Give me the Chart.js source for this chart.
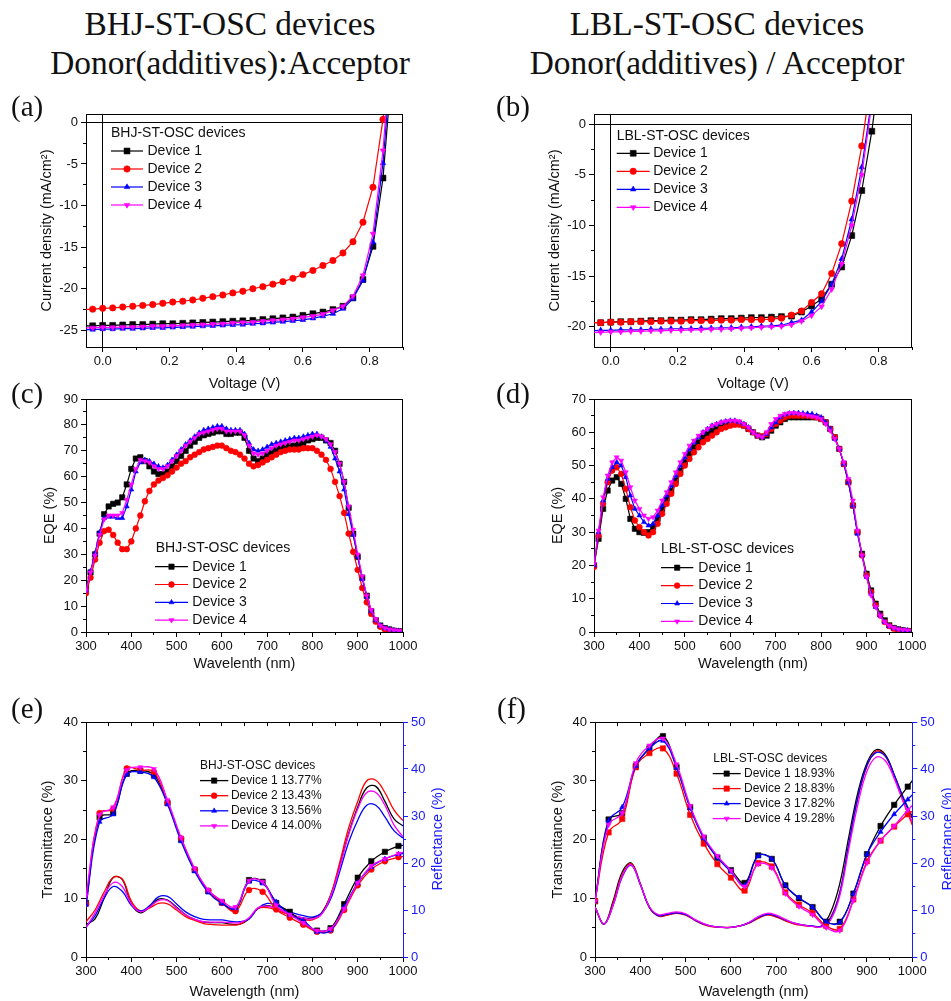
<!DOCTYPE html>
<html lang="en">
<head>
<meta charset="utf-8">
<title>BHJ vs LBL ST-OSC devices</title>
<script src="https://cdn.jsdelivr.net/npm/chart.js@4.4.1/dist/chart.umd.min.js"></script>
<style>
  html, body { margin: 0; padding: 0; background: #fff; }
  #page { position: relative; width: 951px; height: 1001px; overflow: hidden; background: #fff; }
  #page canvas { position: absolute; }
  .head { position: absolute; width: 470px; text-align: center; font-family: "Liberation Serif", "Times New Roman", serif; font-size: 33.4px; line-height: 38.5px; color: #111; white-space: nowrap; }
  .tag { position: absolute; font-family: "Liberation Serif", "Times New Roman", serif; font-size: 29px; line-height: 29px; color: #111; }
  .rtitle { position: absolute; width: 200px; height: 18px; line-height: 18px; text-align: center; font-family: "Liberation Sans", Arial, sans-serif; font-size: 14.5px; color: #1a1aff; transform: rotate(-90deg); white-space: nowrap; }
</style>
</head>
<body>
<div id="page">
  <canvas id="chartA" width="440" height="295" style="left:0;top:100px"></canvas>
  <canvas id="chartB" width="470" height="295" style="left:480px;top:100px"></canvas>
  <canvas id="chartC" width="440" height="290" style="left:0;top:385px"></canvas>
  <canvas id="chartD" width="470" height="290" style="left:480px;top:385px"></canvas>
  <canvas id="chartE" width="470" height="293" style="left:0;top:708px"></canvas>
  <canvas id="chartF" width="480" height="293" style="left:480px;top:708px"></canvas>

  <div class="head" style="left:-5px;top:5px">BHJ-ST-OSC devices<br>Donor(additives):Acceptor</div>
  <div class="head" style="left:482px;top:5px">LBL-ST-OSC devices<br>Donor(additives) / Acceptor</div>

  <div class="tag" style="left:11px;top:92px">(a)</div>
  <div class="tag" style="left:496px;top:92px">(b)</div>
  <div class="tag" style="left:11px;top:379px">(c)</div>
  <div class="tag" style="left:496px;top:379px">(d)</div>
  <div class="tag" style="left:11px;top:694px">(e)</div>
  <div class="tag" style="left:497px;top:694px">(f)</div>

  <div class="rtitle" style="left:337px;top:830px">Reflectance (%)</div>
  <div class="rtitle" style="left:847px;top:830px">Reflectance (%)</div>
</div>

<script>
'use strict';

// ---------- data ----------
let deviceNames = ['Device 1', 'Device 2', 'Device 3', 'Device 4'];
let bhjPce = ['Device 1 13.77%', 'Device 2 13.43%', 'Device 3 13.56%', 'Device 4 14.00%'];
let lblPce = ['Device 1 18.93%', 'Device 2 18.83%', 'Device 3 17.82%', 'Device 4 19.28%'];

// (a), (b) J-V, voltage in V, current density in mA/cm2
let voltage = [-0.06, -0.03, 0, 0.03, 0.06, 0.09, 0.12, 0.15, 0.18, 0.21, 0.24, 0.27, 0.30, 0.33, 0.36, 0.39,
  0.42, 0.45, 0.48, 0.51, 0.54, 0.57, 0.60, 0.63, 0.66, 0.69, 0.72, 0.75, 0.78, 0.81, 0.84, 0.87];

let bhjJ1 = [-24.45, -24.45, -24.4, -24.4, -24.35, -24.3, -24.3, -24.25, -24.2, -24.2, -24.15, -24.1, -24.05, -24.0, -23.95, -23.9,
  -23.85, -23.8, -23.7, -23.6, -23.5, -23.4, -23.2, -23.0, -22.8, -22.5, -22.1, -21.1, -18.9, -14.9, -6.7, 8];
let bhjJ2 = [-22.5, -22.45, -22.35, -22.3, -22.2, -22.1, -22.0, -21.9, -21.75, -21.6, -21.5, -21.35, -21.15, -20.95, -20.75, -20.5,
  -20.3, -20.0, -19.75, -19.45, -19.15, -18.75, -18.3, -17.8, -17.2, -16.6, -15.7, -14.35, -12.0, -7.8, 0.35, 12];
let bhjJ3 = [-24.9, -24.9, -24.85, -24.85, -24.8, -24.8, -24.75, -24.7, -24.7, -24.65, -24.6, -24.55, -24.5, -24.45, -24.4, -24.35,
  -24.3, -24.2, -24.15, -24.05, -23.95, -23.85, -23.75, -23.55, -23.3, -23.0, -22.4, -21.2, -19.0, -14.4, -4.9, 10];
let bhjJ4 = [-24.7, -24.7, -24.65, -24.65, -24.6, -24.6, -24.55, -24.5, -24.5, -24.45, -24.4, -24.35, -24.3, -24.25, -24.2, -24.1,
  -24.05, -24.0, -23.9, -23.8, -23.7, -23.6, -23.45, -23.3, -23.05, -22.6, -22.1, -20.9, -18.4, -13.4, -3.4, 12];

let lblJ1 = [-19.6, -19.6, -19.55, -19.5, -19.5, -19.45, -19.4, -19.4, -19.35, -19.35, -19.3, -19.3, -19.25, -19.2, -19.2, -19.15,
  -19.1, -19.1, -19.05, -19.0, -18.95, -18.55, -17.95, -17.25, -15.8, -14.1, -11.0, -6.55, -0.7, 7, 15, 22];
let lblJ2 = [-19.6, -19.6, -19.55, -19.55, -19.5, -19.5, -19.5, -19.45, -19.45, -19.45, -19.4, -19.4, -19.4, -19.35, -19.35, -19.3,
  -19.3, -19.3, -19.25, -19.15, -18.85, -18.45, -17.6, -16.75, -14.75, -11.8, -7.6, -2.15, 5, 14, 20, 25];
let lblJ3 = [-20.4, -20.35, -20.35, -20.3, -20.3, -20.3, -20.25, -20.25, -20.2, -20.2, -20.2, -20.15, -20.15, -20.1, -20.1, -20.05,
  -20.0, -19.95, -19.9, -19.85, -19.6, -19.35, -18.55, -17.5, -15.8, -13.3, -9.4, -4.25, 2.5, 11, 18, 24];
let lblJ4 = [-20.55, -20.55, -20.5, -20.5, -20.45, -20.45, -20.4, -20.4, -20.35, -20.35, -20.3, -20.3, -20.25, -20.25, -20.2, -20.15,
  -20.1, -20.05, -20.0, -19.95, -19.8, -19.45, -18.9, -18.0, -16.3, -13.8, -10.0, -5.0, 2, 10, 17, 23];

// (c), (d) EQE in %, wavelength in nm
let wlEqe = [300, 310, 320, 330, 340, 350, 360, 370, 380, 390,
  400, 410, 420, 430, 440, 450, 460, 470, 480, 490,
  500, 510, 520, 530, 540, 550, 560, 570, 580, 590,
  600, 610, 620, 630, 640, 650, 660, 670, 680, 690,
  700, 710, 720, 730, 740, 750, 760, 770, 780, 790,
  800, 810, 820, 830, 840, 850, 860, 870, 880, 890,
  900, 910, 920, 930, 940, 950, 960, 970, 980, 990, 1000];

let bhjEqe1 = [17, 23, 30, 38, 45.5, 48.5, 49.5, 50, 52, 57,
  63, 67, 67.5, 66, 64, 62, 61, 61, 62, 64,
  66, 68, 70, 72, 73.5, 75, 76, 76.5, 77, 77.5,
  77.5, 76.5, 76.5, 77, 77, 75, 70, 67, 66, 67,
  68.5, 69.5, 70.5, 71, 71.5, 72, 72, 72.5, 73, 74,
  74.5, 75, 75, 74, 73, 70, 65, 58, 48, 38,
  29, 21, 14, 8, 4.5, 2.5, 1.5, 1, 0.5, 0.3, 0.2];
let bhjEqe2 = [15, 21, 28, 34.5, 39, 39.5, 37.5, 34.5, 32, 32,
  35, 40, 45, 50.5, 54.5, 57, 58.5, 59.5, 60.5, 62,
  63.5, 65, 66, 67.5, 68.5, 69.5, 70.5, 71, 71.5, 72,
  72, 71, 70, 69.5, 68.5, 67, 65, 64, 64.5, 65.5,
  66.5, 67.5, 68.5, 69.5, 70, 70.5, 70.5, 70.5, 71, 71,
  71, 70, 68.5, 66.5, 63, 58, 52.5, 46, 38, 31,
  24, 17, 11.5, 7, 4, 2, 1, 0.6, 0.3, 0.2, 0.1];
let bhjEqe3 = [16, 23.5, 30.5, 38.5, 44, 44.5, 44.5, 44, 44, 48.5,
  55, 62, 65.5, 66.5, 66, 65, 64, 63.5, 64.5, 66.5,
  68.5, 70.5, 72.5, 74, 75.5, 77, 78, 78.5, 79, 79.5,
  79.5, 78.5, 78, 78, 78, 76.5, 73, 70.5, 70, 70.5,
  71.5, 72.5, 73, 73.5, 74, 74.5, 75, 75, 75.5, 76,
  76.5, 76.5, 75.5, 74, 71.5, 67, 62, 55, 45.5, 37.5,
  29, 20.5, 13.5, 8, 4.5, 2.5, 1.5, 1, 0.7, 0.5, 0.4];
let bhjEqe4 = [16, 23, 29.5, 37.5, 43.5, 45, 45, 45, 46, 51,
  57, 63, 66.5, 66, 65.5, 64, 63, 63, 64, 66,
  68, 70, 72, 73.5, 75, 76.5, 77, 77.5, 78, 78.5,
  78.5, 77.5, 77.5, 77.5, 77.5, 76, 72, 69, 68.5, 69,
  70, 71, 72, 72.5, 73, 73.5, 74, 74, 74.5, 75,
  75.5, 76, 75.5, 74.5, 72.5, 69.5, 65, 58, 48.5, 39.5,
  30, 21.5, 14, 8.5, 5, 2.5, 1.5, 1, 0.7, 0.5, 0.4];

let lblEqe1 = [20, 28, 37, 42.5, 45.5, 46.5, 44.5, 40, 34, 31,
  30, 29.8, 30, 31.5, 34, 37, 40, 42.5, 45.5, 48.5,
  51, 53.5, 55.5, 57, 58.5, 59.5, 60.5, 61, 61.5, 62,
  62.5, 62.5, 62.5, 62, 61, 60, 59, 58.5, 59, 60.5,
  62, 63, 64, 64.5, 64.5, 64.5, 64.5, 64.5, 64.5, 64.5,
  64, 63, 61, 58.5, 55, 50.5, 45, 38, 30, 23.5,
  17.5, 12.5, 8.5, 5.5, 3.5, 2, 1.2, 0.8, 0.5, 0.3, 0.2];
let lblEqe2 = [19.5, 29, 38.5, 45, 48.5, 49.5, 47.5, 43, 37.5, 33.5,
  31.5, 30, 29, 30, 32.5, 35.5, 38.5, 41.5, 44.5, 47.5,
  50, 52, 54, 55.5, 57, 58, 59, 60, 61, 61.5,
  62, 62.3, 62.3, 62, 61, 60, 59, 58.8, 59.5, 61,
  62.5, 63.5, 64.5, 65, 65, 65, 65, 65, 64.8, 64.5,
  64, 63, 61, 58.5, 55, 50.5, 45, 38, 30, 23,
  17, 12, 8, 5, 3, 1.8, 1, 0.6, 0.4, 0.3, 0.2];
let lblEqe3 = [20, 30, 39.5, 46, 49.5, 51, 50, 46.5, 41, 37,
  35, 33, 32, 32.5, 35, 38, 41, 44, 47, 50,
  52.5, 55, 57, 58.5, 60, 61, 62, 62.5, 63, 63.3,
  63.5, 63.5, 63, 62.5, 61.5, 60, 59, 58.5, 59.5, 61.5,
  63, 64.5, 65.3, 65.7, 65.8, 65.8, 65.7, 65.6, 65.5, 65,
  64.5, 63, 61, 58, 55, 50.5, 45, 38, 29.5, 23,
  16.5, 11.5, 7.5, 5, 3, 1.8, 1.2, 0.8, 0.6, 0.5, 0.4];
let lblEqe4 = [20.5, 30.5, 40.5, 47, 51, 52.5, 51.5, 48, 43.5, 39.5,
  37, 35, 34, 34.5, 36.5, 39.5, 42, 45, 48, 51,
  53.5, 56, 57.5, 59, 60, 61, 62, 62.5, 63, 63.3,
  63.5, 63.5, 63.3, 62.5, 61.5, 60, 59, 58.5, 60, 62.5,
  64, 65, 65.5, 65.8, 65.8, 65.6, 65.4, 65, 64.8, 64.5,
  64, 62.5, 60.5, 58, 55, 51, 46, 39.5, 30.5, 23,
  16.5, 11, 7.5, 4.8, 3, 1.8, 1.2, 0.8, 0.6, 0.5, 0.4];

// (e), (f) transmittance (left axis, %) with markers
let wlTrans = [300, 330, 360, 390, 420, 450, 480, 510, 540, 570, 600, 630, 660,
  690, 720, 750, 780, 810, 840, 870, 900, 930, 960, 990, 1000];

let bhjT1 = [9.2, 23.8, 24.5, 31.2, 31.7, 31.0, 26.2, 20.0, 14.8, 11.2, 9.3, 8.1, 13.1,
  12.8, 9.2, 7.7, 5.8, 4.5, 4.9, 9.0, 13.5, 16.3, 17.9, 18.9, 19.0];
let bhjT2 = [9.0, 24.5, 25.2, 32.1, 31.8, 31.5, 26.2, 20.2, 14.9, 11.3, 9.2, 7.8, 11.4,
  11.1, 8.1, 6.7, 5.5, 4.3, 4.5, 8.0, 12.2, 14.9, 16.3, 17.0, 17.1];
let bhjT3 = [8.9, 23.0, 24.3, 31.0, 31.5, 30.6, 26.0, 19.7, 14.6, 11.0, 9.1, 8.3, 12.8,
  12.5, 9.4, 7.2, 6.2, 4.3, 4.5, 8.5, 12.6, 15.3, 16.7, 17.5, 17.6];
let bhjT4 = [10.5, 24.2, 25.5, 31.8, 32.3, 32.0, 26.7, 20.3, 15.1, 11.4, 9.6, 8.5, 13.0,
  12.8, 8.8, 7.2, 5.8, 4.5, 4.8, 8.2, 12.6, 15.5, 16.7, 17.6, 17.8];

let lblT1 = [9.5, 23.4, 24.5, 32.5, 35.5, 37.6, 32.3, 25.5, 20.3, 16.9, 14.8, 12.6, 17.3,
  16.7, 12.2, 10.0, 8.5, 6.0, 6.0, 10.8, 17.5, 22.3, 25.9, 29.0, 30.0];
let lblT2 = [9.5, 21.2, 23.5, 32.3, 34.7, 35.5, 31.2, 24.2, 19.3, 15.8, 13.5, 11.3, 16.0,
  15.4, 11.0, 8.9, 7.5, 5.3, 4.8, 9.8, 16.3, 19.8, 22.2, 24.3, 24.8];
let lblT3 = [9.5, 23.2, 25.5, 32.5, 35.5, 36.8, 32.2, 25.3, 20.2, 16.9, 14.5, 12.2, 17.2,
  16.7, 12.2, 10.1, 8.5, 6.0, 5.9, 10.8, 17.5, 21.3, 24.3, 26.8, 27.6];
let lblT4 = [9.5, 22.5, 24.5, 33.0, 36.0, 37.2, 32.8, 25.7, 20.5, 17.2, 14.7, 12.0, 15.8,
  15.2, 10.8, 8.6, 7.2, 5.0, 4.5, 9.6, 16.0, 19.8, 22.3, 25.0, 25.8];

// (e), (f) reflectance (right axis, %), plain lines
let wlRefl = [300, 320, 340, 360, 380, 400, 420, 440, 460, 480, 500, 520, 540, 560, 580, 600, 620, 640,
  660, 680, 700, 720, 740, 760, 780, 800, 820, 840, 860, 880, 900, 920, 940, 960, 980, 1000];

let bhjR1 = [6.9, 8.1, 12.5, 16.9, 16.5, 11.3, 9.4, 10.6, 12.3, 12.1, 10.6, 9.0, 8.0, 7.4, 7.3, 7.3, 7.0, 7.0,
  8.1, 10.3, 10.9, 10.4, 9.5, 8.8, 8.3, 8.3, 9.4, 13.1, 19.4, 26.3, 31.9, 36.0, 36.3, 33.1, 29.4, 27.9];
let bhjR2 = [7.5, 10.0, 13.8, 16.9, 16.6, 11.9, 9.8, 10.4, 11.4, 11.3, 10.0, 8.6, 7.8, 7.1, 6.9, 6.8, 6.8, 7.0,
  8.3, 10.3, 10.5, 10.0, 9.3, 8.6, 8.0, 7.9, 9.1, 13.1, 20.0, 27.5, 33.1, 37.5, 37.6, 35.0, 31.3, 29.0];
let bhjR3 = [6.3, 8.8, 12.5, 15.0, 14.0, 11.0, 9.8, 10.9, 12.8, 12.9, 11.3, 9.6, 8.6, 8.0, 7.9, 7.9, 7.6, 7.5,
  8.1, 10.4, 11.4, 11.0, 10.0, 9.3, 8.8, 8.5, 9.3, 12.3, 18.1, 24.4, 29.1, 32.3, 32.3, 29.8, 26.9, 25.3];
let bhjR4 = [6.3, 9.4, 13.1, 15.8, 15.0, 11.3, 9.6, 10.6, 12.0, 12.0, 10.4, 9.0, 8.0, 7.5, 7.4, 7.4, 7.3, 7.3,
  8.3, 10.5, 10.8, 10.4, 9.5, 8.8, 8.3, 8.1, 9.1, 12.8, 19.0, 26.0, 31.5, 35.0, 35.0, 32.3, 28.1, 25.6];

let lblR1 = [10.6, 7.0, 11.9, 18.1, 20.0, 15.6, 10.6, 8.8, 9.0, 9.4, 9.0, 7.9, 7.0, 6.5, 6.3, 6.3, 6.6, 7.3,
  8.3, 9.1, 8.6, 7.8, 7.1, 6.8, 6.5, 6.6, 9.5, 15.6, 25.6, 35.0, 41.3, 44.1, 43.1, 38.8, 33.8, 29.5];
let lblR2 = [10.6, 7.0, 11.5, 17.5, 19.8, 15.5, 10.5, 8.7, 8.9, 9.3, 8.9, 7.8, 6.9, 6.4, 6.3, 6.3, 6.6, 7.2,
  8.2, 8.9, 8.5, 7.7, 7.0, 6.7, 6.5, 6.6, 8.5, 13.8, 24.0, 33.8, 40.6, 43.8, 42.8, 38.5, 33.1, 28.1];
let lblR3 = [10.6, 7.0, 11.0, 17.0, 19.5, 15.4, 10.6, 8.8, 9.1, 9.4, 9.0, 7.9, 7.0, 6.5, 6.3, 6.3, 6.6, 7.3,
  8.4, 9.1, 8.7, 7.9, 7.2, 6.8, 6.6, 6.6, 8.3, 13.6, 24.1, 34.0, 40.8, 43.5, 42.8, 38.8, 34.0, 29.9];
let lblR4 = [10.6, 7.0, 11.0, 17.2, 19.6, 15.5, 10.7, 9.0, 9.3, 9.6, 9.2, 8.0, 7.1, 6.5, 6.3, 6.3, 6.6, 7.4,
  8.6, 9.3, 8.9, 8.0, 7.2, 6.8, 6.5, 6.4, 7.9, 13.0, 23.0, 32.5, 39.5, 42.5, 41.8, 38.0, 33.0, 28.8];

// ---------- look ----------
let colors = ['#000000', '#ff0000', '#0000ff', '#ff00ff'];
let shapes = ['rect', 'circle', 'triangle', 'triangle'];
let turns = [0, 0, 0, 180];
let sans = '"Liberation Sans", Arial, Helvetica, sans-serif';
let ink = '#111111';
let reflBlue = '#1a1aff';

Chart.defaults.font.family = sans;
Chart.defaults.color = ink;

function toPoints(xs, ys) {
  return xs.map(function (x, i) { return {x: x, y: ys[i]}; });
}

function deviceSet(i, xs, ys, o) {
  let shape = o.shape || shapes[i];
  let r = shape === 'rect' ? o.size * 1.3 : o.size;
  let last = xs.length - 1;
  let ds = {
    label: deviceNames[i],
    legendText: o.legend,
    data: toPoints(xs, ys),
    xAxisID: 'x',
    yAxisID: o.axis || 'y',
    borderColor: colors[i],
    backgroundColor: colors[i],
    borderWidth: o.width || 1.2,
    tension: o.tension || 0,
    pointStyle: shape,
    pointRotation: turns[i],
    pointRadius: o.size === 0 ? 0 : (o.lastBare ? function (c) { return c.dataIndex === last ? 0 : r; } : r),
    pointBorderWidth: 0.6,
    pointBorderColor: colors[i],
    pointBackgroundColor: colors[i],
    order: o.order,
    markSize: r
  };
  if (o.clip !== undefined) ds.clip = o.clip;
  return ds;
}

function zeroOnly(c) {
  return (c.tick && c.tick.value === 0) ? '#000000' : 'rgba(0,0,0,0)';
}

function mainAxis(o) {
  let horiz = o.position === 'bottom' || o.position === 'top';
  let col = o.color || '#000000';
  return {
    type: 'linear',
    position: o.position,
    weight: 1,
    min: o.min,
    max: o.max,
    ticks: {
      stepSize: o.step, includeBounds: false, autoSkip: false, maxRotation: 0,
      padding: o.tickPad === undefined ? 3 : o.tickPad,
      color: o.color || ink, font: {family: sans, size: 13},
      callback: o.fmt || function (v) { return String(v); }
    },
    grid: {
      drawOnChartArea: !!o.zero, color: o.zero ? zeroOnly : col, tickColor: col,
      tickLength: 5, tickWidth: 1, lineWidth: 1
    },
    border: {display: true, color: col, width: 1},
    title: {
      display: !!o.title, text: o.title, color: ink, font: {family: sans, size: 14.5},
      padding: {top: o.titlePad || 0, bottom: o.titlePad || 0}
    },
    afterFit: function (s) {
      if (horiz) { s.height = o.size; } else { s.width = o.size; }
    }
  };
}

function minorAxis(position, min, max, step, color, len) {
  let horiz = position === 'bottom' || position === 'top';
  return {
    type: 'linear',
    position: position,
    weight: 0,
    min: min,
    max: max,
    ticks: {display: false, stepSize: step, includeBounds: false},
    grid: {drawOnChartArea: false, color: color || '#000000', tickLength: len || 3, tickWidth: 1},
    border: {display: false},
    afterFit: function (s) {
      if (horiz) { s.height = 0; } else { s.width = 0; }
    }
  };
}

let framePlugin = {
  id: 'frame',
  afterDatasetsDraw: function (chart, args, o) {
    let a = chart.chartArea;
    let ctx = chart.ctx;
    ctx.save();
    ctx.strokeStyle = '#000000';
    ctx.lineWidth = 1;
    ctx.beginPath();
    ctx.moveTo(a.left, Math.round(a.top) + 0.5);
    ctx.lineTo(a.right, Math.round(a.top) + 0.5);
    if (o && o.right) {
      ctx.moveTo(Math.round(a.right) - 0.5, a.top);
      ctx.lineTo(Math.round(a.right) - 0.5, a.bottom);
    }
    ctx.stroke();
    ctx.restore();
  }
};

function markerAt(ctx, ds, x, y) {
  if (Chart.helpers && Chart.helpers.drawPoint) {
    Chart.helpers.drawPoint(ctx, {pointStyle: ds.pointStyle, rotation: ds.pointRotation, radius: ds.markSize, borderWidth: 0.6}, x, y);
    return;
  }
  ctx.beginPath();
  ctx.arc(x, y, ds.markSize, 0, Math.PI * 2);
  ctx.fill();
}

let legendPlugin = {
  id: 'devLegend',
  afterDatasetsDraw: function (chart, args, o) {
    if (!o || !o.title) return;
    let ctx = chart.ctx;
    let a = chart.chartArea;
    let x = a.left + o.dx;
    ctx.save();
    ctx.font = o.size + 'px ' + sans;
    ctx.textBaseline = 'middle';
    ctx.textAlign = 'left';
    ctx.fillStyle = ink;
    ctx.fillText(o.title, a.left + o.tx, a.top + o.dy);
    let row = 0;
    chart.data.datasets.forEach(function (ds) {
      if (!ds.legendText) return;
      let y = a.top + o.dy0 + row * o.gap;
      ctx.strokeStyle = ds.borderColor;
      ctx.lineWidth = ds.borderWidth;
      ctx.beginPath();
      ctx.moveTo(x, y);
      ctx.lineTo(x + o.len, y);
      ctx.stroke();
      ctx.fillStyle = ds.backgroundColor;
      ctx.lineWidth = 0.6;
      markerAt(ctx, ds, x + o.len / 2, y);
      ctx.fillStyle = ink;
      ctx.fillText(ds.legendText, x + o.len + o.gapText, y);
      row++;
    });
    ctx.restore();
  }
};

Chart.register(framePlugin, legendPlugin);

function drawPanel(id, datasets, scales, pad, legend, frameRight) {
  return new Chart(document.getElementById(id), {
    type: 'line',
    data: {datasets: datasets},
    options: {
      responsive: false,
      animation: false,
      devicePixelRatio: 1,
      events: [],
      layout: {padding: {top: pad.top, right: pad.right, bottom: 0, left: 0}},
      scales: scales,
      plugins: {
        legend: {display: false},
        tooltip: {enabled: false},
        frame: {right: frameRight},
        devLegend: legend
      }
    }
  });
}

function voltFmt(v) { return v.toFixed(1); }

// ---------- (a) BHJ J-V ----------
let bhjJ = [bhjJ1, bhjJ2, bhjJ3, bhjJ4];
drawPanel('chartA',
  bhjJ.map(function (ys, i) {
    return deviceSet(i, voltage, ys, {size: 3.2, clip: 0, order: 3 - i, legend: deviceNames[i]});
  }),
  {
    x: mainAxis({position: 'bottom', min: -0.05, max: 0.9, step: 0.2, fmt: voltFmt, title: 'Voltage (V)', titlePad: 2.3, size: 48, zero: true, tickPad: 2}),
    xm: minorAxis('bottom', -0.05, 0.9, 0.1),
    y: mainAxis({position: 'left', min: -27, max: 1, step: 5, title: 'Current density (mA/cm²)', titlePad: 38.3, size: 86, zero: true}),
    ym: minorAxis('left', -27, 1, 2.5)
  },
  {top: 14, right: 37},
  {title: 'BHJ-ST-OSC devices', tx: 25, dx: 25, dy: 19, dy0: 37, gap: 18, len: 32, gapText: 4.5, size: 14},
  true);

// ---------- (b) LBL J-V ----------
let lblJ = [lblJ1, lblJ2, lblJ3, lblJ4];
drawPanel('chartB',
  lblJ.map(function (ys, i) {
    return deviceSet(i, voltage, ys, {size: 3.2, clip: 0, order: 3 - i, legend: deviceNames[i]});
  }),
  {
    x: mainAxis({position: 'bottom', min: -0.05, max: 0.9, step: 0.2, fmt: voltFmt, title: 'Voltage (V)', titlePad: 2.3, size: 48, zero: true, tickPad: 2}),
    xm: minorAxis('bottom', -0.05, 0.9, 0.1),
    y: mainAxis({position: 'left', min: -22, max: 1, step: 5, title: 'Current density (mA/cm²)', titlePad: 66.3, size: 114, zero: true}),
    ym: minorAxis('left', -22, 1, 2.5)
  },
  {top: 14, right: 38},
  {title: 'LBL-ST-OSC devices', tx: 22.7, dx: 22.7, dy: 22, dy0: 39.3, gap: 18, len: 33, gapText: 3.5, size: 14},
  true);

// ---------- (c) BHJ EQE ----------
let bhjEqe = [bhjEqe1, bhjEqe2, bhjEqe3, bhjEqe4];
drawPanel('chartC',
  bhjEqe.map(function (ys, i) {
    return deviceSet(i, wlEqe, ys, {size: 2.9, order: 3 - i, legend: deviceNames[i]});
  }),
  {
    x: mainAxis({position: 'bottom', min: 300, max: 1000, step: 100, title: 'Wavelenth (nm)', titlePad: 2.3, size: 43, tickPad: 2}),
    xm: minorAxis('bottom', 300, 1000, 50),
    y: mainAxis({position: 'left', min: 0, max: 90, step: 10, title: 'EQE (%)', titlePad: 41.3, size: 86}),
    ym: minorAxis('left', 0, 90, 5)
  },
  {top: 14, right: 37},
  {title: 'BHJ-ST-OSC devices', tx: 69.7, dx: 69, dy: 149.3, dy0: 167.7, gap: 17.8, len: 33, gapText: 4.3, size: 14},
  true);

// ---------- (d) LBL EQE ----------
let lblEqe = [lblEqe1, lblEqe2, lblEqe3, lblEqe4];
drawPanel('chartD',
  lblEqe.map(function (ys, i) {
    return deviceSet(i, wlEqe, ys, {size: 2.9, order: 3 - i, legend: deviceNames[i]});
  }),
  {
    x: mainAxis({position: 'bottom', min: 300, max: 1000, step: 100, title: 'Wavelength (nm)', titlePad: 2.3, size: 43, tickPad: 2}),
    xm: minorAxis('bottom', 300, 1000, 50),
    y: mainAxis({position: 'left', min: 0, max: 70, step: 10, title: 'EQE (%)', titlePad: 69.3, size: 114}),
    ym: minorAxis('left', 0, 70, 5)
  },
  {top: 14, right: 38},
  {title: 'LBL-ST-OSC devices', tx: 67, dx: 67, dy: 150.3, dy0: 168.7, gap: 17.9, len: 32.3, gapText: 5, size: 14},
  true);

// ---------- (e) BHJ transmittance / reflectance ----------
let bhjT = [bhjT1, bhjT2, bhjT3, bhjT4];
let bhjR = [bhjR1, bhjR2, bhjR3, bhjR4];
drawPanel('chartE',
  bhjT.map(function (ys, i) {
    return deviceSet(i, wlTrans, ys, {size: 2.9, width: 1.3, tension: 0.4, lastBare: true, order: 3 - i, legend: bhjPce[i]});
  }).concat(bhjR.map(function (ys, i) {
    return deviceSet(i, wlRefl, ys, {size: 0, width: 1.3, tension: 0.4, axis: 'y2', order: 7 - i});
  })),
  {
    x: mainAxis({position: 'bottom', min: 300, max: 1000, step: 100, title: 'Wavelength (nm)', titlePad: 0.3, size: 44, tickPad: 2}),
    xm: minorAxis('bottom', 300, 1000, 50),
    xt: minorAxis('top', 300, 1000, 50, '#000000', -4),
    y: mainAxis({position: 'left', min: 0, max: 40, step: 10, title: 'Transmittance (%)', titlePad: 39.6, size: 86}),
    ym: minorAxis('left', 0, 40, 5),
    y2: mainAxis({position: 'right', min: 0, max: 50, step: 10, size: 67, color: reflBlue}),
    y2m: minorAxis('right', 0, 50, 5, reflBlue)
  },
  {top: 14, right: 0},
  {title: 'BHJ-ST-OSC devices', tx: 114, dx: 114, dy: 44, dy0: 58.6, gap: 15.1, len: 28.3, gapText: 2.6, size: 12},
  false);

// ---------- (f) LBL transmittance / reflectance ----------
let lblT = [lblT1, lblT2, lblT3, lblT4];
let lblR = [lblR1, lblR2, lblR3, lblR4];
drawPanel('chartF',
  lblT.map(function (ys, i) {
    return deviceSet(i, wlTrans, ys, {size: 2.9, width: 1.3, tension: 0.4, lastBare: true, order: 3 - i, legend: lblPce[i], shape: i === 1 ? 'rect' : undefined});
  }).concat(lblR.map(function (ys, i) {
    return deviceSet(i, wlRefl, ys, {size: 0, width: 1.3, tension: 0.4, axis: 'y2', order: 7 - i});
  })),
  {
    x: mainAxis({position: 'bottom', min: 300, max: 1000, step: 100, title: 'Wavelength (nm)', titlePad: 0.3, size: 44, tickPad: 2}),
    xm: minorAxis('bottom', 300, 1000, 50),
    xt: minorAxis('top', 300, 1000, 50, '#000000', -4),
    y: mainAxis({position: 'left', min: 0, max: 40, step: 10, title: 'Transmittance (%)', titlePad: 69.6, size: 115}),
    ym: minorAxis('left', 0, 40, 5),
    y2: mainAxis({position: 'right', min: 0, max: 50, step: 10, size: 47.7, color: reflBlue}),
    y2m: minorAxis('right', 0, 50, 5, reflBlue)
  },
  {top: 14, right: 0},
  {title: 'LBL-ST-OSC devices', tx: 118.3, dx: 117.7, dy: 36.6, dy0: 51.6, gap: 15, len: 28, gapText: 3.3, size: 12},
  false);
</script>
</body>
</html>
